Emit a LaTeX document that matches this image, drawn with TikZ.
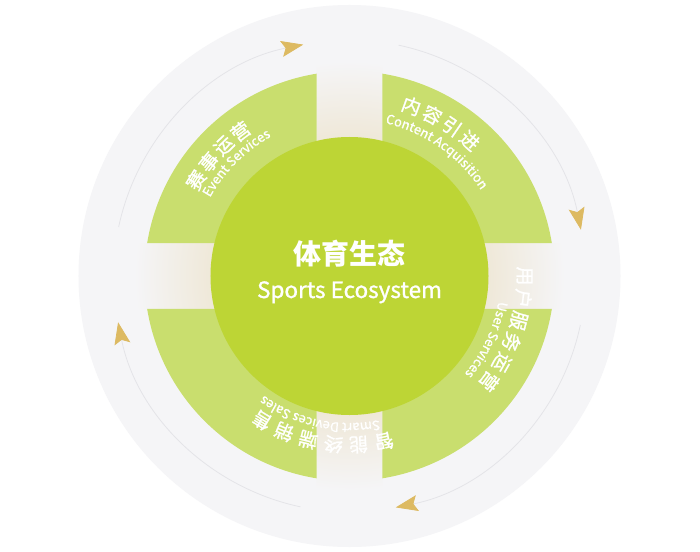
\documentclass[tikz,border=0pt]{standalone}
\usepackage{fontspec}
\setmainfont{Noto Sans CJK SC}
\newfontfamily\medfont[FakeBold=1.2]{Noto Sans CJK SC}
\usetikzlibrary{arrows.meta,decorations.text}
\definecolor{ringgray}{HTML}{F5F5F7}
\definecolor{bandbeige}{HTML}{EFE8D8}
\definecolor{quadgreen}{HTML}{C9DE6E}
\definecolor{coregreen}{HTML}{BDD535}
\definecolor{arrowgold}{HTML}{DDBA62}
\definecolor{arcline}{HTML}{E4E4E8}
\pgfdeclareradialshading{bandfade}{\pgfpoint{0bp}{0bp}}{color(0bp)=(bandbeige); color(16bp)=(bandbeige); color(25bp)=(ringgray); color(50bp)=(ringgray)}
\begin{document}
\begin{tikzpicture}[x=1pt,y=1pt,
  cjklabel/.style={text=white,inner sep=0pt,font=\medfont\fontsize{19}{19}\selectfont},
  cyclearc/.style={arcline,line width=0.8pt,-{Stealth[length=22pt,width=16pt,inset=4pt,color=arrowgold]}}]
\useasboundingbox[fill=white] (-349.5,-275) rectangle (350.5,276);
\fill[ringgray] (0,0) circle (271);
\begin{scope}
  \clip (-33,-215) rectangle (33,215) (-215,-33) rectangle (215,33);
  \shade[shading=bandfade] (0,0) circle (215);
\end{scope}
\foreach \r in {0,90,180,270}
  \fill[quadgreen,rotate=\r] (33,33) -- (80.74:205) arc[start angle=80.74,end angle=9.26,radius=205] -- cycle;
\fill[coregreen] (0,0) circle (139);
\node[text=white,font=\fontsize{28}{28}\selectfont\bfseries] (eco) at (0,22.5) {体育生态};
\node[text=white,anchor=base,font=\medfont\fontsize{22.5}{22.5}\selectfont] (ecoen) at (0,-22) {Sports Ecosystem};
\foreach \s in {0,90,180,270}
  \draw[cyclearc] (78+\s:236) arc[start angle=78+\s,end angle=11.3+\s,radius=236];
\foreach \nm/\st/\rad/\p/\txt in {ev/148/181/7/{赛,事,运,营},ca/70/181/7.2/{内,容,引,进},us/0/175/7.4/{用,户,服,务,运,营},sd/-78.3/169/8.6/{智,能,终,端,销,售}}
  \foreach \ch [count=\i] in \txt
    \node[cjklabel,rotate={\st-(\i-1)*\p-90}] (\nm\i) at ({\st-(\i-1)*\p}:\rad) {\ch};
\path[decorate,decoration={text along path,text={|\medfont\fontsize{13}{13}\selectfont|Event Services},text color=white,text align=center}] (175:160) arc[start angle=175,end angle=95,radius=160];
\path[decorate,decoration={text along path,text={|\medfont\fontsize{13}{13}\selectfont|Content Acquisition},text color=white,text align=center}] (95:157) arc[start angle=95,end angle=15,radius=157];
\path[decorate,decoration={text along path,text={|\medfont\fontsize{13}{13}\selectfont|User Services},text color=white,text align=center}] (15:151) arc[start angle=15,end angle=-65,radius=151];
\path[decorate,decoration={text along path,text={|\medfont\fontsize{13}{13}\selectfont|Smart Devices Sales},text color=white,text align=center}] (-62:147) arc[start angle=-62,end angle=-142,radius=147];
\end{tikzpicture}
\end{document}
